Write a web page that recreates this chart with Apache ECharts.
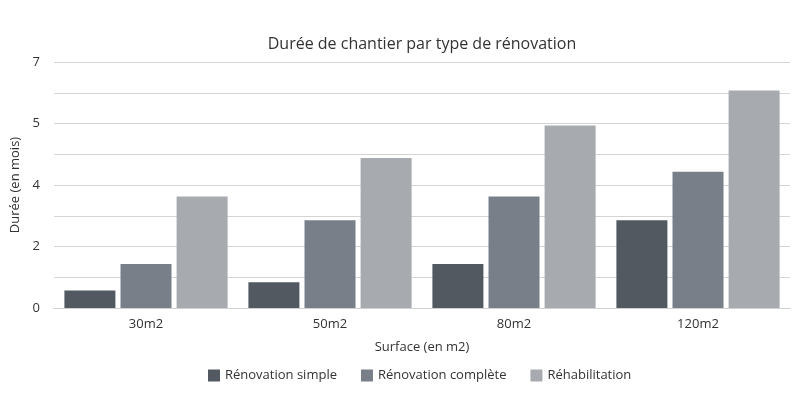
<!DOCTYPE html>
<html lang="fr">
<head>
    <meta charset="UTF-8">
    <title>Durée de chantier</title>
    <script src="https://cdn.jsdelivr.net/npm/echarts@6/dist/echarts.min.js"></script>
    <style>
        body { margin: 0; background: #fff; }
        #main { width: 810px; height: 408px; }
    </style>
</head>
<body>
<div id="main"></div>
<script>
    var surfaces = ['30m2', '50m2', '80m2', '120m2'];
    var renovSimple = [0.5, 0.73, 1.25, 2.5];
    var renovComplete = [1.25, 2.5, 3.17, 3.88];
    var rehab = [3.17, 4.27, 5.19, 6.19];

    var textColor = '#333';
    var font = 'Open Sans';

    function bar(name, data, color){
        return {
            name: name,
            type: 'bar',
            data: data,
            barWidth: 51,
            barGap: '10%',
            itemStyle: { color: color }
        };
    }

    var myChart = echarts.init(document.getElementById('main'));
    var option = {
        animation: false,
        textStyle: { fontFamily: font, color: textColor },
        title: {
            text: 'Durée de chantier par type de rénovation',
            left: 417,
            top: 31,
            textAlign: 'center',
            textStyle: { fontSize: 16, fontWeight: 'normal', color: textColor, fontFamily: font }
        },
        legend: {
            bottom: 21,
            left: 203,
            itemWidth: 12,
            itemHeight: 12,
            itemGap: 24,
            icon: 'rect',
            textStyle: { fontSize: 13, color: textColor, fontFamily: font }
        },
        grid: { left: 54, right: 20, top: 62, bottom: 100 },
        xAxis: {
            type: 'category',
            data: surfaces,
            name: 'Surface (en m2)',
            nameLocation: 'middle',
            nameGap: 33,
            nameTextStyle: { fontSize: 13, color: textColor },
            axisTick: { show: false },
            axisLine: { lineStyle: { color: '#d0d0d0' } },
            axisLabel: { fontSize: 13, color: textColor, margin: 10 }
        },
        yAxis: {
            type: 'value',
            min: 0,
            max: 7,
            interval: 1.75,
            name: 'Durée (en mois)',
            nameLocation: 'middle',
            nameGap: 30,
            nameTextStyle: { fontSize: 13, color: textColor },
            axisLabel: {
                fontSize: 13, color: textColor, margin: 14,
                formatter: function(v){ return Math.round(v); }
            },
            splitLine: { lineStyle: { color: '#d4d4d4' } },
            minorTick: { show: false, splitNumber: 2 },
            minorSplitLine: { show: true, lineStyle: { color: '#d4d4d4' } }
        },
        series: [
            bar('Rénovation simple', renovSimple, '#525961'),
            bar('Rénovation complète', renovComplete, '#787f89'),
            bar('Réhabilitation', rehab, '#a7abaf')
        ]
    };
    myChart.setOption(option);
</script>
</body>
</html>
